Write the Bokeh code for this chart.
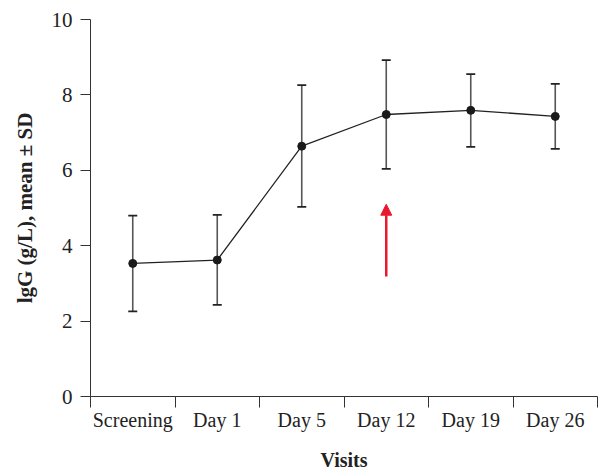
from bokeh.plotting import figure
from bokeh.models import Range1d, FixedTicker, Whisker, ColumnDataSource, Arrow, NormalHead, TeeHead
from bokeh.embed import file_html
from bokeh.resources import INLINE

visits = ["Screening", "Day 1", "Day 5", "Day 12", "Day 19", "Day 26"]
mean_igg = [3.53, 3.62, 6.64, 7.48, 7.59, 7.43]
upper_sd = [4.80, 4.82, 8.26, 8.92, 8.55, 8.29]
lower_sd = [2.26, 2.43, 5.03, 6.04, 6.62, 6.57]
y_ticks = [0, 2, 4, 6, 8, 10]
arrow_visit = "Day 12"
arrow_start = 3.18
arrow_end = 5.10

xs = [i + 0.5 for i in range(len(visits))]
src = ColumnDataSource(dict(x=xs, y=mean_igg, upper=upper_sd, lower=lower_sd))

FONT = "Liberation Serif"
p = figure(width=610, height=473, output_backend="svg", toolbar_location=None,
           x_range=Range1d(0, len(visits)), y_range=Range1d(0, 10),
           min_border_left=90, min_border_right=13, min_border_top=19, min_border_bottom=76)
p.outline_line_color = None
p.grid.visible = False
p.background_fill_color = "white"
p.border_fill_color = "white"

# x axis: labels centred in bands, tick marks at band boundaries
p.xaxis.ticker = FixedTicker(ticks=xs, minor_ticks=list(range(len(visits) + 1)))
p.xaxis.major_label_overrides = {x: v for x, v in zip(xs, visits)}
p.xaxis.major_tick_out = 0
p.xaxis.major_tick_in = 0
p.xaxis.minor_tick_out = 11
p.xaxis.minor_tick_in = 0
p.xaxis.minor_tick_line_color = "#333333"
p.xaxis.major_label_standoff = 1
p.xaxis.major_label_text_font = FONT
p.xaxis.major_label_text_font_size = "20px"
p.xaxis.major_label_text_color = "#222222"
p.xaxis.axis_label = "Visits"
p.xaxis.axis_label_text_font = FONT
p.xaxis.axis_label_text_font_style = "bold"
p.xaxis.axis_label_text_font_size = "20px"
p.xaxis.axis_label_text_color = "#222222"
p.xaxis.axis_label_standoff = 15
p.xaxis.axis_line_color = "#333333"

p.yaxis.ticker = FixedTicker(ticks=y_ticks)
p.yaxis.major_tick_out = 10
p.yaxis.major_tick_in = 0
p.yaxis.minor_tick_out = 0
p.yaxis.major_tick_line_color = "#333333"
p.yaxis.major_label_standoff = 8
p.yaxis.major_label_text_font = FONT
p.yaxis.major_label_text_font_size = "21px"
p.yaxis.major_label_text_color = "#222222"
p.yaxis.axis_label = "lgG (g/L), mean ± SD"
p.yaxis.axis_label_text_font = FONT
p.yaxis.axis_label_text_font_style = "bold"
p.yaxis.axis_label_text_font_size = "21px"
p.yaxis.axis_label_text_color = "#222222"
p.yaxis.axis_label_standoff = 12
p.yaxis.axis_line_color = "#333333"

w = Whisker(source=src, base="x", upper="upper", lower="lower",
            line_color="#555555", line_width=1.6,
            upper_head=TeeHead(size=9, line_color="#222222", line_width=1.8),
            lower_head=TeeHead(size=9, line_color="#222222", line_width=1.8))
p.add_layout(w)

p.line("x", "y", source=src, line_color="#222222", line_width=1.3)
p.scatter("x", "y", source=src, size=8, fill_color="#1a1a1a", line_color="#1a1a1a")

ax = xs[visits.index(arrow_visit)]
p.add_layout(Arrow(x_start=ax, y_start=arrow_start, x_end=ax, y_end=arrow_end,
                   line_color="#e8192c", line_width=2.5,
                   end=NormalHead(size=11, fill_color="#e8192c", line_color="#e8192c", line_width=1)))

open("out.html", "w").write(file_html(p, INLINE))
